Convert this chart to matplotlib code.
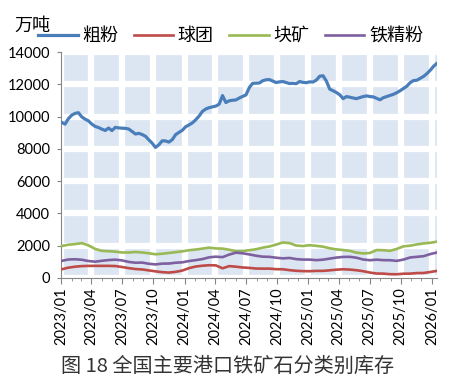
import numpy as np
import pandas as pd
import matplotlib
matplotlib.use("Agg")
import matplotlib.pyplot as plt
import matplotlib.dates as mdates

plt.rcParams['font.family'] = ['Lato', 'Noto Sans CJK SC', 'DejaVu Sans']

# weekly-ish sampling of port inventory (万吨)
fine_dates = pd.date_range('2023-01-03', '2026-01-16', periods=113)
coarse_dates = pd.date_range('2023-01-03', '2026-01-16', periods=57)

fines = [
    9640, 9530, 9870, 10090, 10200, 10240, 9980, 9840, 9730, 9530,
    9390, 9320, 9220, 9140, 9290, 9130, 9330, 9300, 9280, 9270,
    9230, 9080, 8920, 8960, 8890, 8780, 8560, 8350, 8090, 8250,
    8500, 8490, 8420, 8570, 8880, 9020, 9150, 9370, 9480, 9610,
    9800, 10030, 10320, 10470, 10550, 10600, 10650, 10770, 11300, 10870,
    10980, 11010, 11030, 11150, 11250, 11340, 11800, 12060, 12070, 12080,
    12220, 12280, 12290, 12200, 12110, 12150, 12170, 12110, 12050, 12060,
    12040, 12170, 12120, 12100, 12150, 12140, 12260, 12500, 12530, 12200,
    11700, 11600, 11490, 11350, 11110, 11240, 11200, 11150, 11110, 11180,
    11240, 11280, 11240, 11220, 11130, 11040, 11170, 11240, 11310, 11380,
    11480, 11600, 11740, 11880, 12100, 12230, 12250, 12370, 12490, 12660,
    12870, 13120, 13300,
]

pellets = [
    540, 640, 700, 735, 750, 750, 750, 750, 740, 680,
    610, 555, 530, 470, 410, 360, 335, 380, 460, 610,
    710, 760, 790, 780, 600, 735, 700, 650, 625, 585,
    580, 580, 545, 540, 485, 445, 425, 420, 440, 440,
    475, 515, 540, 520, 480, 420, 335, 275, 270, 235,
    230, 265, 270, 305, 310, 370, 440,
]

lump = [
    1980, 2060, 2100, 2160, 2020, 1800, 1680, 1660, 1630, 1580,
    1580, 1610, 1580, 1530, 1470, 1500, 1550, 1600, 1650, 1720,
    1760, 1820, 1880, 1830, 1820, 1750, 1660, 1670, 1720, 1780,
    1880, 1950, 2070, 2200, 2160, 2010, 1980, 2030, 1990, 1940,
    1840, 1770, 1730, 1680, 1570, 1520, 1550, 1730, 1720, 1680,
    1800, 1960, 2000, 2080, 2140, 2180, 2250,
]

concentrate = [
    1060, 1145, 1160, 1130, 1050, 1010, 1065, 1110, 1135, 1090,
    995, 945, 955, 880, 840, 890, 895, 945, 970, 1050,
    1105, 1170, 1280, 1320, 1290, 1450, 1570, 1530, 1460, 1380,
    1320, 1310, 1255, 1215, 1240, 1170, 1140, 1140, 1105, 1135,
    1200, 1265, 1305, 1310, 1255, 1145, 1100, 1135, 1105, 1100,
    1060, 1140, 1270, 1310, 1350, 1480, 1580,
]

fig = plt.figure(figsize=(4.5, 3.87), dpi=100)
ax = fig.add_axes([0.1356, 0.2817, 0.8354, 0.5839])

ax.plot(fine_dates, fines, color='#4a7ebb', lw=2.3, label='粗粉', zorder=4)
ax.plot(coarse_dates, pellets, color='#be4b48', lw=1.9, label='球团', zorder=3)
ax.plot(coarse_dates, lump, color='#98b954', lw=1.9, label='块矿', zorder=3)
ax.plot(coarse_dates, concentrate, color='#7d60a0', lw=1.9, label='铁精粉', zorder=3)

ax.set_facecolor('#dce6f2')
ax.set_axisbelow(True)
ax.grid(True, color='white', lw=4.5)

ax.set_ylim(0, 14000)
ax.set_yticks(range(0, 14001, 2000))
ax.set_xlim(pd.Timestamp('2023-01-01'), pd.Timestamp('2026-01-16'))
ax.xaxis.set_major_locator(mdates.MonthLocator(bymonth=[1, 4, 7, 10]))
ax.xaxis.set_minor_locator(mdates.MonthLocator())
ax.xaxis.set_major_formatter(mdates.DateFormatter('%Y/%m'))

for s in ['top', 'right']:
    ax.spines[s].set_visible(False)
for s in ['left', 'bottom']:
    ax.spines[s].set_color('#868686')
    ax.spines[s].set_linewidth(0.8)

ax.tick_params(axis='y', length=3, color='#868686', labelsize=10.5, pad=5)
ax.tick_params(axis='x', which='major', length=4, color='#868686',
               labelsize=10.5, pad=3, labelrotation=90)
ax.tick_params(axis='x', which='minor', length=2, color='#868686')

fig.text(0.033, 0.933, '万吨', fontsize=13, family=['Noto Sans CJK SC'],
         va='center', ha='left', fontweight='light')
fig.legend(loc='center left', bbox_to_anchor=(0.0844, 0.907), ncol=4,
           frameon=False, borderpad=0, borderaxespad=0, handlelength=2.2,
           handletextpad=0.25, columnspacing=0.85,
           prop={'family': ['Noto Sans CJK SC'], 'size': 13, 'weight': 'light'})

fig.text(0.505, 0.054, '图 18 全国主要港口铁矿石分类别库存', fontsize=14.5,
         family=['Noto Sans CJK SC'], fontweight='light',
         ha='center', va='center', color='#333333')

fig.savefig('out.png', dpi=100)
